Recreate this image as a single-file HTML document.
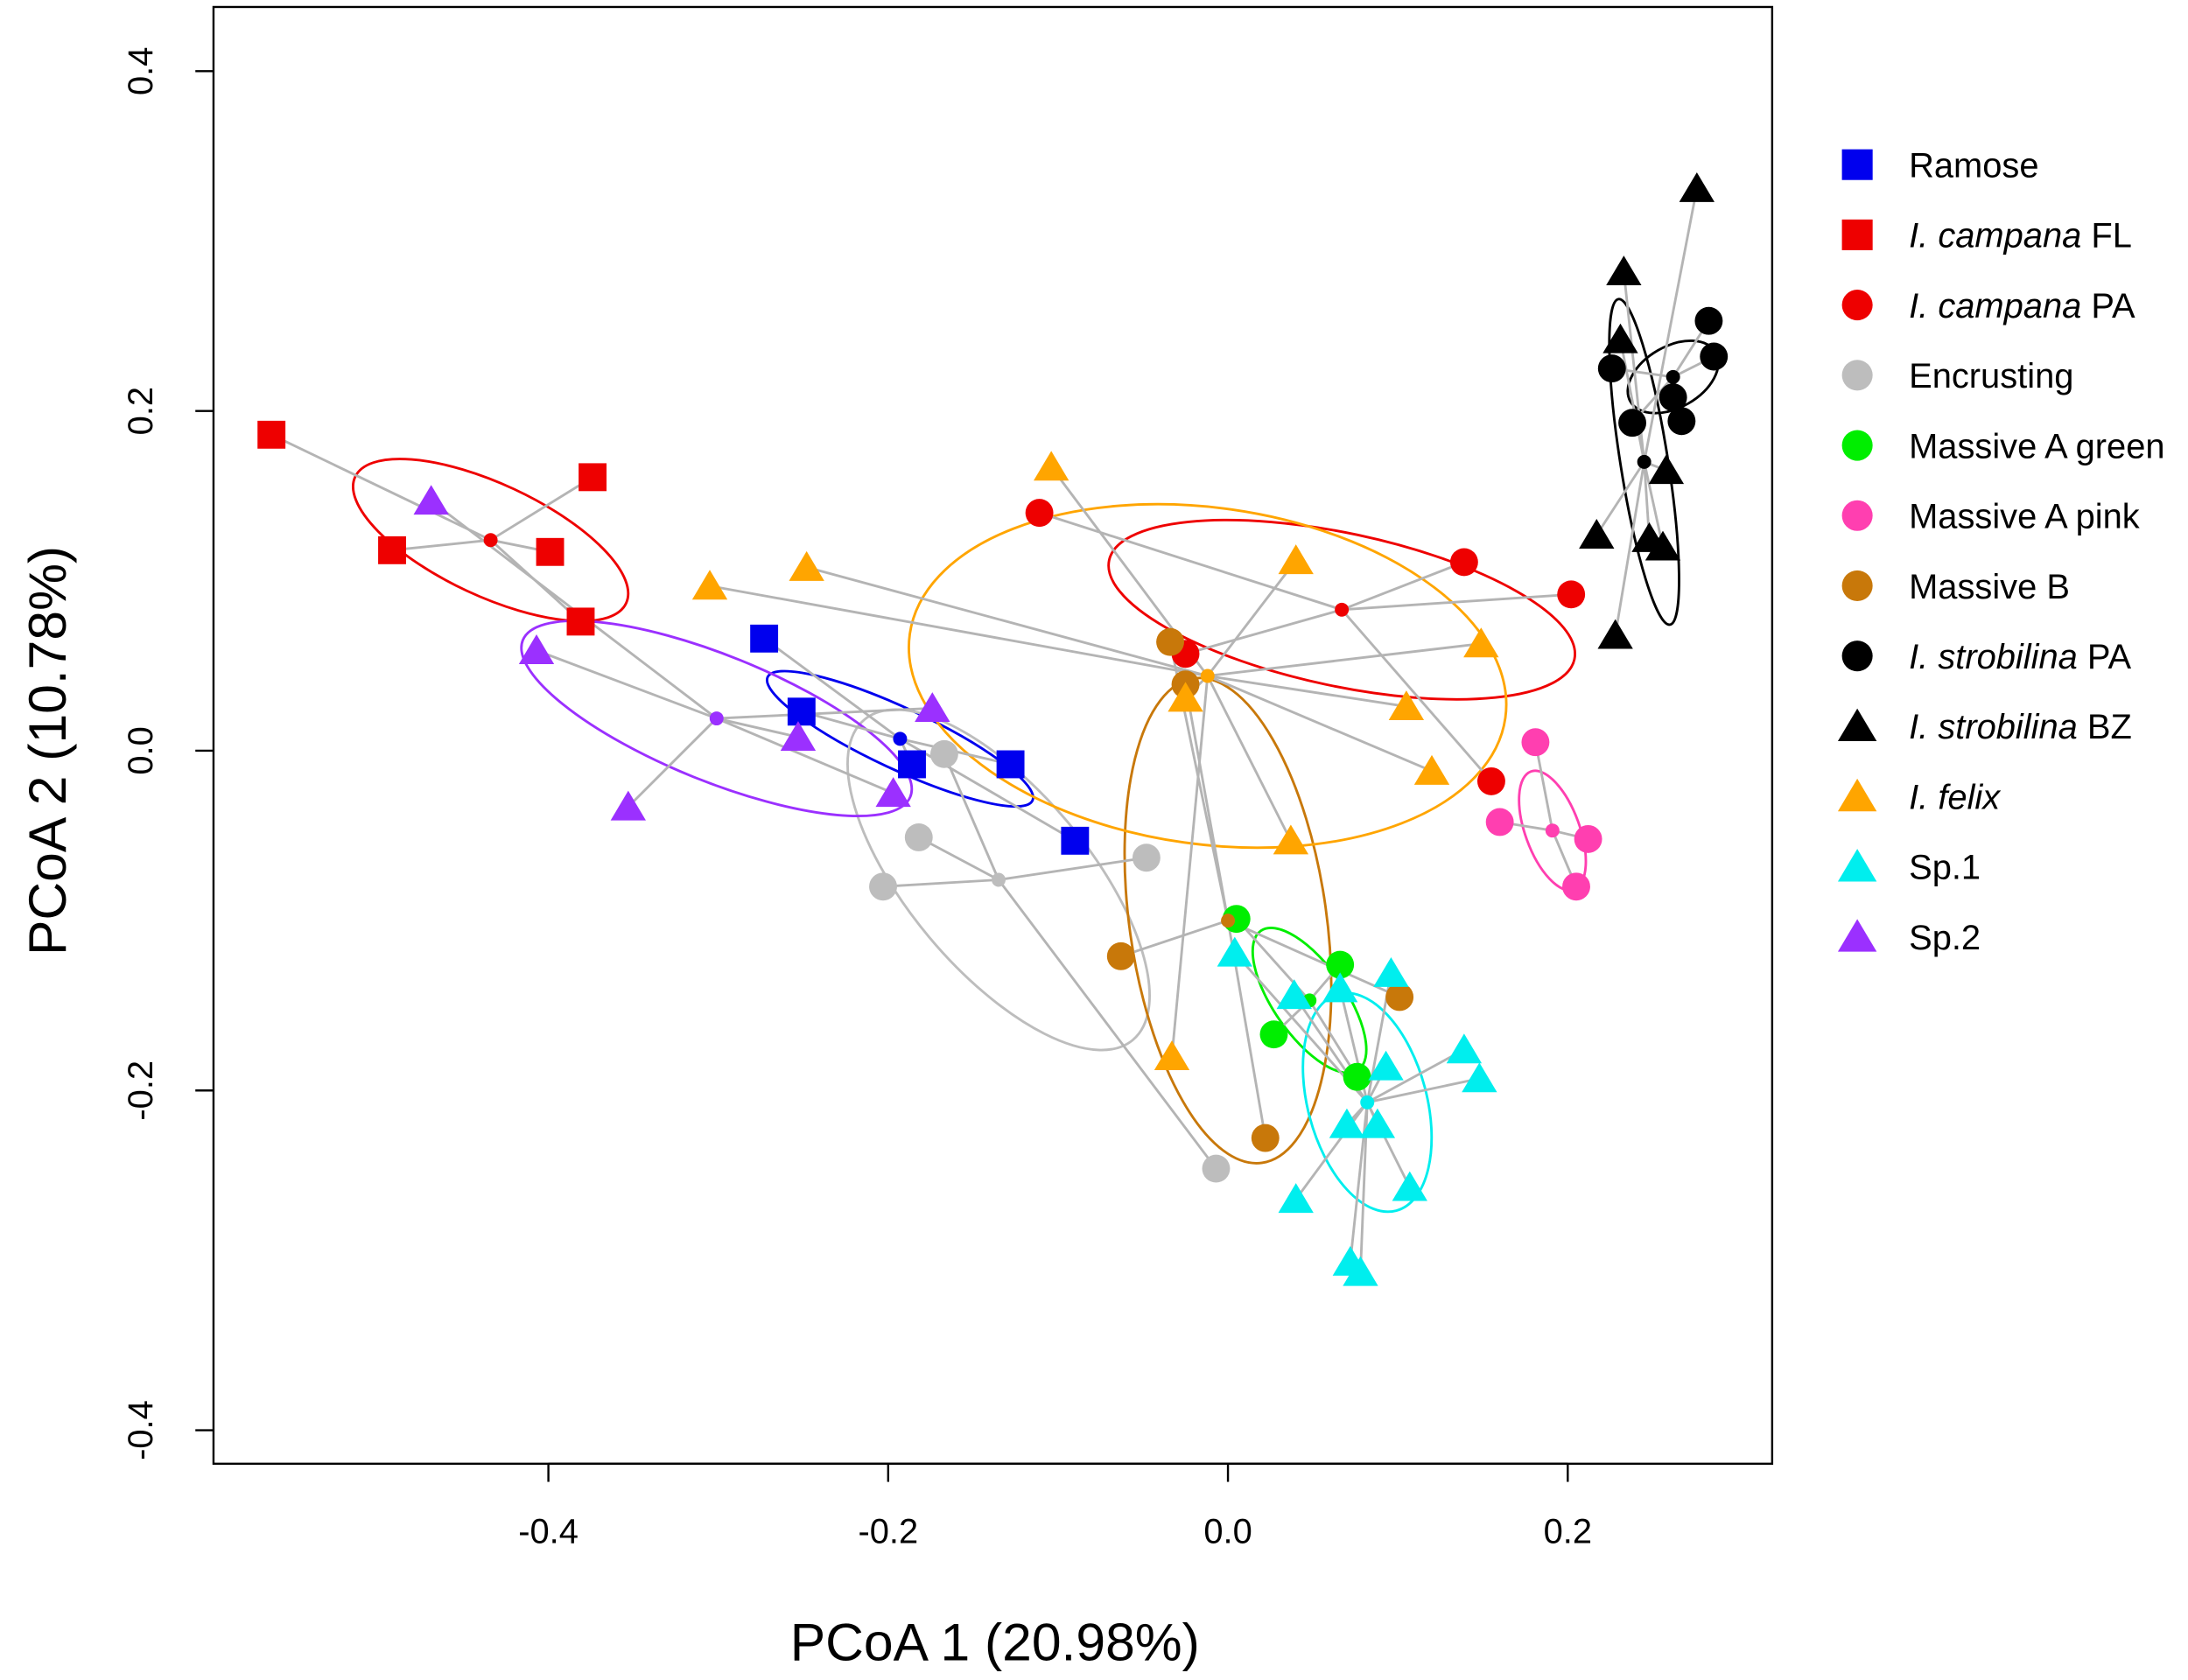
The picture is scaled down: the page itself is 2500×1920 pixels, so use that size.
<!DOCTYPE html>
<html><head><meta charset="utf-8"><style>
html,body{margin:0;padding:0;background:#fff;}
svg{display:block;font-family:"Liberation Sans",Arial,sans-serif;}
</style></head><body>
<svg id="chart" width="2500" height="1920" viewBox="0 0 1568 1204" preserveAspectRatio="none" xmlns="http://www.w3.org/2000/svg">
<rect x="153" y="5" width="1117" height="1044" fill="none" stroke="#000" stroke-width="1.5"/>
<g id="axes"></g>
<g id="ellipses"></g>
<g id="lines"></g>
<g id="marks"></g>
<g id="legend"></g>
<text x="713" y="1190" font-size="38" text-anchor="middle">PCoA 1 (20.98%)</text>
<text transform="translate(47,538) rotate(-90)" font-size="38" text-anchor="middle">PCoA 2 (10.78%)</text>
</svg>
<script>
const groupNames = ["Ramose","I. campana FL","I. campana PA","Encrusting","Massive A green","Massive A pink","Massive B","I. strobilina PA","I. strobilina BZ","I. felix","Sp.1","Sp.2"];
const groupColors = ["#0000ee","#ee0000","#ee0000","#bdbdbd","#00ee00","#ff3fb0","#c8780a","#000000","#000000","#ffa500","#00eeee","#9b30ff"];
const groupShapes = ["square","square","circle","circle","circle","circle","circle","circle","triangle","triangle","triangle","triangle"];
const ramoseX = [-0.273,-0.251,-0.186,-0.128,-0.090];
const ramoseY = [0.066,0.023,-0.008,-0.008,-0.053];
const campFLX = [-0.563,-0.492,-0.374,-0.399,-0.381];
const campFLY = [0.186,0.118,0.161,0.117,0.076];
const campPAX = [-0.111,-0.025,0.139,0.202,0.155];
const campPAY = [0.140,0.057,0.111,0.092,-0.018];
const encrX = [-0.167,-0.182,-0.203,-0.048,-0.007];
const encrY = [-0.002,-0.051,-0.080,-0.063,-0.246];
const greenX = [0.005,0.027,0.066,0.076];
const greenY = [-0.099,-0.167,-0.126,-0.192];
const pinkX = [0.181,0.160,0.212,0.205];
const pinkY = [0.005,-0.042,-0.052,-0.080];
const massBX = [-0.034,-0.025,-0.063,0.022,0.101];
const massBY = [0.064,0.039,-0.121,-0.228,-0.145];
const strPAX = [0.226,0.238,0.262,0.267,0.283,0.286];
const strPAY = [0.225,0.193,0.208,0.194,0.253,0.232];
const strBZX = [0.276,0.233,0.231,0.258,0.217,0.248,0.256,0.228];
const strBZY = [0.331,0.282,0.242,0.165,0.127,0.125,0.120,0.068];
const felixX = [-0.104,-0.305,-0.248,0.040,0.149,0.105,0.120,-0.025,0.037,-0.033];
const felixY = [0.167,0.097,0.108,0.112,0.063,0.026,-0.012,0.031,-0.053,-0.180];
const sp1X = [0.004,0.039,0.066,0.096,0.093,0.139,0.148,0.070,0.088,0.107,0.040,0.072,0.078];
const sp1Y = [-0.119,-0.144,-0.140,-0.131,-0.186,-0.176,-0.193,-0.220,-0.220,-0.257,-0.264,-0.301,-0.307];
const sp2X = [-0.469,-0.407,-0.353,-0.253,-0.197,-0.174];
const sp2Y = [0.147,0.059,-0.033,0.008,-0.025,0.025];
// group centroids (data units)
const centX = [-0.193,-0.434,0.067,-0.135,0.048,0.191,0.000,0.262,0.245,-0.012,0.082,-0.301];
const centY = [0.007,0.124,0.083,-0.076,-0.147,-0.047,-0.100,0.220,0.170,0.044,-0.207,0.019];
// ellipse semi-axes (data units) and rotation (deg)
const ellRx = [0.086,0.088,0.140,0.123,0.050,0.037,0.144,0.029,0.097,0.177,0.066,0.123];
const ellRy = [0.018,0.033,0.045,0.053,0.021,0.016,0.058,0.018,0.014,0.099,0.035,0.037];
const ellAngle = [25,25,12,50,55,70,82,-30,81,8,75,22];
const xTicks = [-0.4,-0.2,0.0,0.2];
const yTicks = [-0.4,-0.2,0.0,0.2,0.4];
const allX = [ramoseX,campFLX,campPAX,encrX,greenX,pinkX,massBX,strPAX,strBZX,felixX,sp1X,sp2X];
const allY = [ramoseY,campFLY,campPAY,encrY,greenY,pinkY,massBY,strPAY,strBZY,felixY,sp1Y,sp2Y];

const NS="http://www.w3.org/2000/svg";
const sx = v => 880 + v*1217.5;
const sy = v => 538 - v*1217.5;
const K = 1217.5;
function mk(tag, attrs, parent){const e=document.createElementNS(NS,tag);for(const k in attrs)e.setAttribute(k,attrs[k]);parent.appendChild(e);return e;}
const axes=document.getElementById('axes');
xTicks.forEach(t=>{
  const l=mk('line',{x1:sx(t),x2:sx(t),y1:1049,y2:1062,stroke:'#000','stroke-width':1.5},axes);
  
  
  const tx=mk('text',{x:sx(t),y:1106,'font-size':25,'text-anchor':'middle'},axes);
  tx.textContent=t.toFixed(1);
  
  
});
mk('line',{x1:sx(-0.4),x2:sx(0.2),y1:1049,y2:1049,stroke:'#000','stroke-width':1.5},axes);
yTicks.forEach(t=>{
  const l=mk('line',{x1:140,x2:153,y1:sy(t),y2:sy(t),stroke:'#000','stroke-width':1.5},axes);
  
  
  const tx=mk('text',{transform:`translate(109,${sy(t)}) rotate(-90)`,'font-size':25,'text-anchor':'middle'},axes);
  tx.textContent=t.toFixed(1);
  
  
});
function marker(shape,x,y,s,color,parent){
  let e;
  if(shape==='square') e=mk('rect',{x:x-s,y:y-s,width:2*s,height:2*s,fill:color},parent);
  else if(shape==='circle') e=mk('circle',{cx:x,cy:y,r:s,fill:color},parent);
  else { const h=s*1.15; e=mk('polygon',{points:`${x},${y-h} ${x-h*1.1},${y+h*0.85} ${x+h*1.1},${y+h*0.85}`,fill:color},parent); }
  return e;
}
const eg=document.getElementById('ellipses'), lg=document.getElementById('lines'), mg=document.getElementById('marks');
allX.forEach((xs,g)=>{
  const ys=allY[g];
  const cx=centX[g], cy=centY[g];
  const el=mk('ellipse',{cx:sx(cx),cy:sy(cy),rx:ellRx[g]*K,ry:ellRy[g]*K,fill:'none',stroke:groupColors[g],'stroke-width':1.8,transform:`rotate(${ellAngle[g]} ${sx(cx)} ${sy(cy)})`},eg);
  
  
  xs.forEach((x,i)=>{
    const ln=mk('line',{x1:sx(cx),y1:sy(cy),x2:sx(x),y2:sy(ys[i]),stroke:'#b4b4b4','stroke-width':1.8},lg);
    
    
  });
});
allX.forEach((xs,g)=>{
  const ys=allY[g];
  const c=mk('circle',{cx:sx(centX[g]),cy:sy(centY[g]),r:5,fill:groupColors[g]},mg);
  
  
  xs.forEach((x,i)=>{
    const m=marker(groupShapes[g],sx(x),sy(ys[i]),10,groupColors[g],mg);
    
    
  });
});
const leg=document.getElementById('legend');
const italic=[null,"I. campana","I. campana",null,null,null,null,"I. strobilina","I. strobilina","I. felix",null,null];
groupNames.forEach((n,g)=>{
  const y=118+g*50.3;
  const m=marker(groupShapes[g],1331,y,11,groupColors[g],leg);
  
  
  const t=mk('text',{x:1368,y:y+9,'font-size':25},leg);
  
  
  if(italic[g]){
    const a=mk('tspan',{'font-style':'italic'},t);a.textContent=italic[g];
    const b=mk('tspan',{},t);b.textContent=n.slice(italic[g].length);
  } else t.textContent=n;
});
</script>
</body></html>
